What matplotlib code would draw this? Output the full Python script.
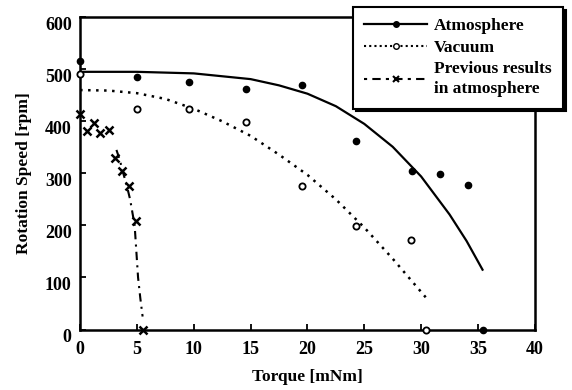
import matplotlib
matplotlib.use("Agg")
import matplotlib.pyplot as plt
import matplotlib.transforms as mtransforms
from matplotlib.lines import Line2D

plt.rcParams['font.family'] = ['Liberation Serif', 'DejaVu Serif']
plt.rcParams['font.weight'] = 'bold'

# measured points
atm_x = [0, 5, 9.6, 14.6, 19.5, 24.3, 29.2, 31.7, 34.1, 35.4]
atm_y = [516, 485, 476, 462, 470, 363, 305, 298, 277, 0]
vac_x = [0, 5, 9.6, 14.6, 19.5, 24.3, 29.1, 30.4]
vac_y = [490, 424, 424, 398, 275, 199, 172, 0]
prev_x = [0, 0.6, 1.2, 1.75, 2.5, 3.1, 3.7, 4.3, 4.9, 5.5]
prev_y = [414, 381, 397, 377, 383, 330, 304, 275, 209, 0]

# fitted curves
atm_fit_x = [0, 5, 10, 15, 17.5, 20, 22.5, 25, 27.5, 30, 32.5, 34, 35.4]
atm_fit_y = [495, 495, 492, 481, 469, 453, 429, 395, 351, 294, 221, 170, 115]
vac_fit_x = [0, 2.5, 5, 7.5, 10, 12.5, 15, 17.5, 20, 22.5, 25, 27.5, 30.4]
vac_fit_y = [460, 459, 454, 443, 424, 400, 372, 336, 297, 250, 196, 136, 62]
prev_fit_x = [3.2, 3.5, 3.8, 4.1, 4.4, 4.6, 4.8, 4.95, 5.1, 5.3, 5.5]
prev_fit_y = [345, 325, 300, 277, 250, 225, 200, 150, 100, 60, 25]

fig = plt.figure(figsize=(5.72, 3.9), dpi=100)
ax = fig.add_axes([0.14, 0.155, 0.795, 0.801])

ax.plot(atm_fit_x, atm_fit_y, color='k', lw=1.6)
ax.plot(vac_fit_x, vac_fit_y, color='k', lw=1.8, ls=(0, (1, 2.2)))
ax.plot(prev_fit_x, prev_fit_y, color='k', lw=1.5, ls=(0, (4, 2.5, 1, 2.5)))

ax.plot(atm_x, atm_y, 'o', color='k', ms=4.5, clip_on=False, zorder=5)
ax.plot(vac_x, vac_y, 'o', mfc='white', mec='k', mew=1.3, ms=4.5, clip_on=False, zorder=5)
ax.plot(prev_x, prev_y, 'x', color='k', mew=1.8, ms=6, clip_on=False, zorder=5)

ax.set_xlim(0, 40)
ax.set_ylim(0, 600)
ax.set_xticks(range(0, 41, 5))
ax.set_yticks(range(0, 601, 100))
ax.tick_params(direction='in', length=4, width=1.3, labelsize=13, pad=8)
ax.tick_params(axis='y', pad=6)
for s in ax.spines.values():
    s.set_linewidth(1.8)
ax.set_xlabel('Torque [mNm]', fontsize=12.5, fontweight='bold', labelpad=8)
ax.set_ylabel('Rotation Speed [rpm]', fontsize=12.5, fontweight='bold', labelpad=9)

# y tick labels sit a little below their ticks in the original
shift = mtransforms.ScaledTranslation(0, -0.06, fig.dpi_scale_trans)
for lab in ax.get_yticklabels():
    lab.set_transform(lab.get_transform() + shift)

handles = [
    Line2D([], [], color='k', lw=1.6, marker='o', ms=4),
    Line2D([], [], color='k', lw=1.5, ls=(0, (1, 1.5)), marker='o', mfc='white', ms=4),
    Line2D([], [], color='k', lw=1.5, ls=(0, (1.5, 2.5, 4, 2.5)), marker='x', mew=1.5, ms=5),
]
labels = ['Atmosphere', 'Vacuum', 'Previous results\nin atmosphere']
leg = fig.legend(handles, labels, loc='upper right', bbox_to_anchor=(0.984, 0.982),
                 numpoints=1, handlelength=3.6, fontsize=12.5, fancybox=False,
                 framealpha=1, edgecolor='k', borderpad=0.65, labelspacing=0.3,
                 handletextpad=0.4, borderaxespad=0,
                 shadow={'color': 'k', 'alpha': 1})
leg.get_frame().set_linewidth(1.5)
for t in leg.get_texts():
    t.set_linespacing(1.35)

fig.savefig('out.png', dpi=100, facecolor='white')
